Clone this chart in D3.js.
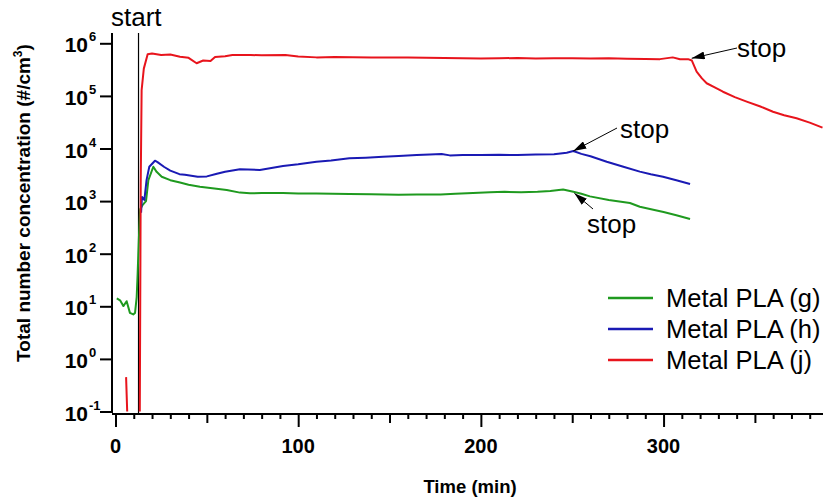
<!DOCTYPE html>
<html><head><meta charset="utf-8">
<script src="https://cdn.jsdelivr.net/npm/d3@7"></script>
<style>body{margin:0;background:#fff}svg{display:block}</style>
</head><body>
<svg id="c" width="830" height="497"></svg>
<script>
// ---- data ----
const seriesNames = ["Metal PLA (g)", "Metal PLA (h)", "Metal PLA (j)"];
const seriesColors = ["#1f9a1f", "#1a1ab4", "#e8141c"];
// Metal PLA (g) [time (min), concentration]
const dataG = [[0.7,14.2],[2.5,13],[4.3,10.1],[6.1,12.5],[7.9,7.5],[9.7,7],[10.7,7.5],[11.6,15],[12.1,40],[12.8,200],[13.5,700],[14.9,850],[16.7,1000],[18,2500],[20.7,4500],[22.5,3600],[25.3,2900],[30,2500],[35.3,2250],[40,2050],[46.2,1880],[53,1750],[60.9,1630],[68.1,1450],[73.6,1410],[80,1420],[91.7,1430],[100,1400],[110,1390],[128,1370],[140,1350],[155,1320],[165,1340],[178,1330],[186,1380],[195.7,1430],[205,1470],[213,1500],[222,1480],[231,1500],[238,1560],[245,1660],[250.6,1500],[255,1380],[259.7,1230],[270,1050],[281.6,920],[287,780],[295,680],[300,620],[307,540],[314.5,457]];
// Metal PLA (h)
const dataH = [[14.0,600],[14.5,1200],[15.8,1050],[17,2500],[18.5,4500],[21.6,5860],[23,5500],[26.7,4450],[30,3800],[35,3250],[38,3160],[45,2900],[50,2950],[55.5,3300],[60,3600],[68.1,4030],[79,3900],[91.7,4650],[100,5000],[110,5610],[118,5900],[128,6510],[137,6700],[146.4,6980],[155,7200],[164.9,7520],[172,7700],[178.5,7860],[183,7400],[190,7500],[200,7500],[210,7600],[220,7500],[230,7700],[240,7800],[247,8320],[250.6,8960],[255,7900],[260,7100],[268.9,5610],[278,4500],[287,3630],[293,3250],[299.7,2910],[307,2500],[314.5,2110]];
// Metal PLA (j) (null = gap)
const dataJ = [[5.8,0.45],[6.4,0.1],null,[13.3,0.1],[13.8,2000],[14.3,129000],[15.5,330000],[17.6,620000],[20,640000],[25,600000],[30,610000],[35.3,556000],[40,530000],[44.4,417000],[48,470000],[52,460000],[54.5,550000],[60,570000],[64,600000],[74,600000],[80,590000],[93,600000],[100,560000],[110,540000],[120,550000],[130,545000],[140,540000],[150,535000],[160,540000],[170,530000],[180,525000],[190,520000],[200,515000],[210,520000],[220,525000],[230,515000],[240,520000],[250,520000],[260,515000],[270,520000],[280,510000],[290,505000],[298,500000],[305,540000],[309,497000],[313.4,500000],[315.5,470000],[318.1,290000],[321,215000],[323.6,174000],[328,145000],[332.5,120000],[339,95000],[345.5,78000],[353,63000],[359.9,50000],[366,43000],[372.8,37500],[380,31000],[387,25000]];
const yTicks = [0.1, 1, 10, 100, 1000, 10000, 100000, 1000000];
const yTickExp = ["-1","0","1","2","3","4","5","6"];
const xTicks = [0, 100, 200, 300];
const startTime = 12.6;
// annotation: arrow tip at data point (t, v); text position
const stopLabels = [
  {text:"stop", t:315.4, v:519000, tx:737, ty:57, ax:737, ay:48},
  {text:"stop", t:250.6, v:8960, tx:620, ty:138, ax:617, ay:128},
  {text:"stop", t:251.2, v:1406, tx:587, ty:233, ax:593, ay:209}
];

// ---- chart ----
const FONT = "Liberation Sans, Arial, sans-serif";
const svg = d3.select("#c");
const x = d3.scaleLinear().domain([0, 387]).range([115.5, 822.5]);
const y = d3.scaleLog().domain([0.1, 1e6]).range([411.5, 43.3]);
const plotTop = 33, plotBottom = 413, plotLeft = 112, plotRight = 823;

const defs = svg.append("defs");
defs.append("clipPath").attr("id","clip")
  .append("rect").attr("x",plotLeft).attr("y",plotTop).attr("width",plotRight-plotLeft).attr("height",plotBottom-plotTop);
defs.append("marker").attr("id","arr").attr("viewBox","0 0 13 8")
  .attr("refX",13).attr("refY",4).attr("markerWidth",13).attr("markerHeight",8)
  .attr("markerUnits","userSpaceOnUse").attr("orient","auto")
  .append("path").attr("d","M0,0 L13,4 L0,8 Z").attr("fill","#000");

// start line
svg.append("line").attr("x1",x(startTime)).attr("x2",x(startTime))
  .attr("y1",plotTop).attr("y2",plotBottom).attr("stroke","#000").attr("stroke-width",1.2);

const line = d3.line().defined(d=>d!==null).x(d=>x(d[0])).y(d=>y(d[1]));
const g = svg.append("g").attr("clip-path","url(#clip)");
[dataG, dataH, dataJ].forEach((d,i)=>{
  g.append("path").attr("d",line(d)).attr("fill","none")
    .attr("stroke",seriesColors[i]).attr("stroke-width",2).attr("stroke-linejoin","round");
});

// x axis
const xAxis = d3.axisBottom(x).tickValues(d3.range(0,390,10)).tickSize(5).tickFormat("");
const xg = svg.append("g").attr("transform",`translate(0,${plotBottom+1})`).call(xAxis);
xg.select(".domain").remove();
xg.selectAll(".tick line").attr("stroke-width",2)
  .attr("y2",d=> d%100===0 ? 13 : (d%50===0 ? 9 : 5));
svg.append("line").attr("x1",plotLeft).attr("x2",plotRight).attr("y1",plotBottom+1).attr("y2",plotBottom+1)
  .attr("stroke","#000").attr("stroke-width",2);
svg.selectAll(".xl").data(xTicks).join("text").attr("class","xl")
  .attr("x",d=>x(d)).attr("y",453).attr("text-anchor","middle")
  .attr("font-family",FONT).attr("font-weight","bold").attr("font-size",20)
  .text(d=>d);

// y axis
const yAxis = d3.axisLeft(y).tickValues(yTicks).tickSize(12).tickFormat("");
const yg = svg.append("g").attr("transform",`translate(${plotLeft},0)`).call(yAxis);
yg.select(".domain").remove();
yg.selectAll(".tick line").attr("stroke-width",2);
svg.append("line").attr("x1",plotLeft).attr("x2",plotLeft).attr("y1",plotTop).attr("y2",plotBottom)
  .attr("stroke","#000").attr("stroke-width",2);
svg.selectAll(".yl").data(yTicks).join("text").attr("class","yl")
  .attr("x",88).attr("y",d=>y(d)+9).attr("text-anchor","end")
  .attr("font-family",FONT).attr("font-weight","bold").attr("font-size",21)
  .text("10");
svg.selectAll(".ye").data(yTicks).join("text").attr("class","ye")
  .attr("x",89).attr("y",d=>y(d)-2)
  .attr("font-family",FONT).attr("font-weight","bold").attr("font-size",13)
  .text((d,i)=>yTickExp[i]);

// axis titles
svg.append("text").attr("x",470).attr("y",493).attr("text-anchor","middle")
  .attr("font-family",FONT).attr("font-weight","bold").attr("font-size",18.5)
  .text("Time (min)");
const yt = svg.append("text").attr("transform","translate(30,203) rotate(-90)").attr("text-anchor","middle")
  .attr("font-family",FONT).attr("font-weight","bold").attr("font-size",19);
yt.append("tspan").text("Total number concentration (#/cm");
yt.append("tspan").attr("font-size",12).attr("dy",-8).text("3");
yt.append("tspan").attr("dy",8).text(")");

// start label
svg.append("text").attr("x",111).attr("y",26)
  .attr("font-family",FONT).attr("font-size",26).text("start");

// stop labels
stopLabels.forEach(s=>{
  svg.append("line").attr("x1",s.ax).attr("y1",s.ay).attr("x2",x(s.t)).attr("y2",y(s.v))
    .attr("stroke","#000").attr("stroke-width",1).attr("marker-end","url(#arr)");
  svg.append("text").attr("x",s.tx).attr("y",s.ty)
    .attr("font-family",FONT).attr("font-size",26).text(s.text);
});

// legend
const lg = svg.append("g");
seriesNames.forEach((n,i)=>{
  const ly = 298 + i*31;
  lg.append("line").attr("x1",608).attr("x2",653).attr("y1",ly).attr("y2",ly)
    .attr("stroke",seriesColors[i]).attr("stroke-width",2.5);
  lg.append("text").attr("x",666).attr("y",ly+9)
    .attr("font-family",FONT).attr("font-size",25.5).text(n);
});
</script>
</body></html>
